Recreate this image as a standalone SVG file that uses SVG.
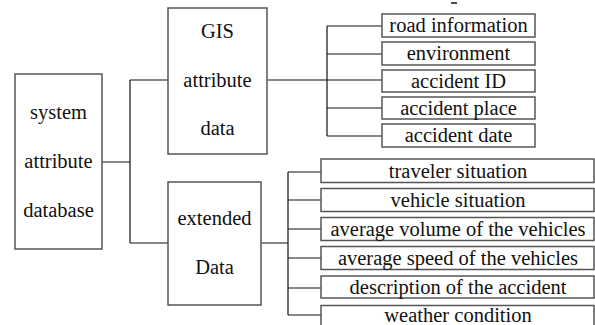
<svg xmlns="http://www.w3.org/2000/svg" width="595" height="325" viewBox="0 0 595 325">
<style>
.box{fill:#fff;stroke:#555;stroke-width:1.5}
.item{fill:#fff;stroke:#555;stroke-width:1.5}
.t{font-family:'Liberation Serif', 'Times New Roman', serif;font-size:20.5px;fill:#111;text-anchor:middle}
.c{fill:none;stroke:#111;stroke-width:1.2}
</style>
<rect width="595" height="325" fill="#fff"/>
<g id="connectors">
<path class="c" d="M102,162H130M130,80V243M130,80H168M130,243H168"/>
<path class="c" d="M267,80H327M327,26V136M327,26H382M327,54H382M327,80H382M327,108H382M327,136H382"/>
<path class="c" d="M261,243H288M288,172V315M288,172H321M288,200H321M288,229H321M288,258H321M288,288H321M288,315H321"/>
</g>
<path d="M451,3H457" stroke="#111" stroke-width="1.5"/>
<g id="system">
<rect class="box" x="15" y="74" width="87" height="175"/>
<text class="t" x="58.5" y="119">system</text>
<text class="t" x="58.5" y="168">attribute</text>
<text class="t" x="58.5" y="217">database</text>
</g>
<g id="gis">
<rect class="box" x="168" y="8" width="99" height="146"/>
<text class="t" x="217.5" y="38">GIS</text>
<text class="t" x="217.5" y="87">attribute</text>
<text class="t" x="217.5" y="135">data</text>
</g>
<g id="extended">
<rect class="box" x="168" y="182" width="93" height="123"/>
<text class="t" x="214.5" y="225">extended</text>
<text class="t" x="214.5" y="274">Data</text>
</g>
<g id="road">
<rect class="item" x="382" y="14" width="153" height="23"/>
<text class="t" x="458.5" y="32">road information</text>
</g>
<g id="environment">
<rect class="item" x="382" y="42" width="153" height="23"/>
<text class="t" x="458.5" y="60">environment</text>
</g>
<g id="accidentID">
<rect class="item" x="382" y="70" width="153" height="22"/>
<text class="t" x="458.5" y="87.5">accident ID</text>
</g>
<g id="accidentPlace">
<rect class="item" x="382" y="97" width="153" height="22"/>
<text class="t" x="458.5" y="114.5">accident place</text>
</g>
<g id="accidentDate">
<rect class="item" x="382" y="124" width="153" height="23"/>
<text class="t" x="458.5" y="142">accident date</text>
</g>
<g id="traveler">
<rect class="item" x="321" y="159" width="273" height="23.5"/>
<text class="t" x="458" y="178">traveler situation</text>
</g>
<g id="vehicle">
<rect class="item" x="321" y="188.5" width="273" height="23"/>
<text class="t" x="458" y="207">vehicle situation</text>
</g>
<g id="volume">
<rect class="item" x="321" y="217.5" width="273" height="23"/>
<text class="t" x="458" y="236">average volume of the vehicles</text>
</g>
<g id="speed">
<rect class="item" x="321" y="246.5" width="273" height="23"/>
<text class="t" x="458" y="265">average speed of the vehicles</text>
</g>
<g id="description">
<rect class="item" x="321" y="276" width="273" height="22"/>
<text class="t" x="458" y="294">description of the accident</text>
</g>
<g id="weather">
<rect class="item" x="321" y="305.5" width="273" height="30"/>
<text class="t" x="458" y="322">weather condition</text>
</g>
</svg>
